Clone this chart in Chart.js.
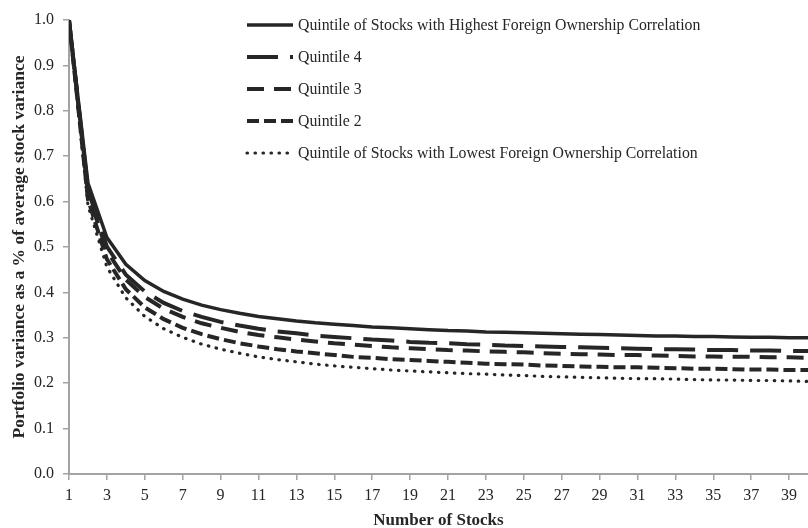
<!DOCTYPE html>
<html>
<head>
<meta charset="utf-8">
<script src="https://cdn.jsdelivr.net/npm/chart.js@4"></script>
<style>
  html, body { margin: 0; padding: 0; background: #fff; }
  #wrap { width: 808px; height: 528px; }
</style>
</head>
<body>
<div id="wrap"><canvas id="chart" width="808" height="528"></canvas></div>
<script>
// Number of stocks in the portfolio (x axis)
const nStocks = [1, 2, 3, 4, 5, 6, 7, 8, 9, 10, 11, 12, 13, 14, 15, 16, 17, 18, 19, 20,
  21, 22, 23, 24, 25, 26, 27, 28, 29, 30, 31, 32, 33, 34, 35, 36, 37, 38, 39, 40];
const xTicks = [1, 3, 5, 7, 9, 11, 13, 15, 17, 19, 21, 23, 25, 27, 29, 31, 33, 35, 37, 39];

// Portfolio variance as share of average stock variance
const highest = [1.000, 0.641, 0.521, 0.462, 0.426, 0.402, 0.385, 0.372, 0.362, 0.354,
  0.347, 0.342, 0.337, 0.333, 0.330, 0.327, 0.324, 0.322, 0.320, 0.318,
  0.316, 0.315, 0.313, 0.312, 0.311, 0.310, 0.309, 0.308, 0.307, 0.306,
  0.305, 0.304, 0.304, 0.303, 0.303, 0.302, 0.301, 0.301, 0.300, 0.300];
const quint4 = [1.000, 0.626, 0.501, 0.439, 0.402, 0.377, 0.359, 0.346, 0.335, 0.327,
  0.320, 0.314, 0.310, 0.305, 0.302, 0.299, 0.296, 0.294, 0.291, 0.289,
  0.288, 0.286, 0.285, 0.283, 0.282, 0.281, 0.280, 0.279, 0.278, 0.277,
  0.276, 0.275, 0.275, 0.274, 0.273, 0.273, 0.272, 0.272, 0.271, 0.271];
const quint3 = [1.000, 0.619, 0.491, 0.428, 0.390, 0.364, 0.346, 0.332, 0.322, 0.313,
  0.306, 0.301, 0.296, 0.292, 0.288, 0.285, 0.282, 0.279, 0.277, 0.275,
  0.273, 0.272, 0.270, 0.269, 0.268, 0.266, 0.265, 0.264, 0.263, 0.262,
  0.262, 0.261, 0.260, 0.259, 0.259, 0.258, 0.258, 0.257, 0.257, 0.256];
const quint2 = [1.000, 0.605, 0.473, 0.407, 0.367, 0.341, 0.322, 0.308, 0.297, 0.288,
  0.281, 0.275, 0.270, 0.266, 0.262, 0.258, 0.256, 0.253, 0.251, 0.249,
  0.247, 0.245, 0.243, 0.242, 0.241, 0.239, 0.238, 0.237, 0.236, 0.235,
  0.235, 0.234, 0.233, 0.232, 0.232, 0.231, 0.230, 0.230, 0.229, 0.229];
const lowest = [1.000, 0.592, 0.456, 0.388, 0.347, 0.320, 0.301, 0.286, 0.275, 0.266,
  0.258, 0.252, 0.247, 0.242, 0.238, 0.235, 0.232, 0.229, 0.227, 0.225,
  0.223, 0.221, 0.220, 0.218, 0.217, 0.215, 0.214, 0.213, 0.212, 0.211,
  0.210, 0.210, 0.209, 0.208, 0.207, 0.207, 0.206, 0.206, 0.205, 0.204];

const seriesNames = [
  'Quintile of Stocks with Highest Foreign Ownership Correlation',
  'Quintile 4',
  'Quintile 3',
  'Quintile 2',
  'Quintile of Stocks with Lowest Foreign Ownership Correlation'
];

const axisGrey = '#a3a3a3';
const ink = '#262626';
const serif = "'Liberation Serif', 'Times New Roman', serif";

function toPoints(values) {
  return values.map((v, i) => ({ x: nStocks[i], y: v }));
}

function makeSet(label, values, width, dash, cap) {
  return {
    label,
    data: toPoints(values),
    borderColor: ink,
    borderWidth: width,
    borderDash: dash,
    borderCapStyle: cap || 'butt',
    pointRadius: 0,
    tension: 0,
    fill: false
  };
}

// Legend drawn inside the plot area, top right
const insideLegend = {
  id: 'insideLegend',
  afterDraw(chart) {
    const ctx = chart.ctx;
    const x0 = 247, x1 = 293, textX = 298;
    ctx.save();
    chart.data.datasets.forEach((ds, i) => {
      const y = 25 + i * 32;
      ctx.beginPath();
      ctx.strokeStyle = ds.borderColor;
      ctx.lineWidth = ds.borderWidth;
      ctx.setLineDash(ds.borderDash || []);
      ctx.lineCap = ds.borderCapStyle;
      ctx.moveTo(x0, y);
      ctx.lineTo(x1, y);
      ctx.stroke();
      ctx.setLineDash([]);
      ctx.fillStyle = ink;
      ctx.font = '15.8px ' + serif;
      ctx.textBaseline = 'middle';
      ctx.textAlign = 'left';
      ctx.fillText(seriesNames[i], textX, y + 1);
    });
    ctx.restore();
  }
};

new Chart(document.getElementById('chart'), {
  type: 'line',
  data: {
    datasets: [
      makeSet(seriesNames[0], highest, 3.5, []),
      makeSet(seriesNames[1], quint4, 4, [31, 12]),
      makeSet(seriesNames[2], quint3, 4, [17, 10]),
      makeSet(seriesNames[3], quint2, 4, [12, 5]),
      makeSet(seriesNames[4], lowest, 3.2, [0.5, 7.5], 'round')
    ]
  },
  options: {
    responsive: false,
    animation: false,
    layout: { padding: { top: 20, right: 0, left: 0, bottom: 0 } },
    plugins: {
      legend: { display: false },
      tooltip: { enabled: false }
    },
    scales: {
      x: {
        type: 'linear',
        min: 1,
        max: 40,
        afterBuildTicks: axis => { axis.ticks = xTicks.map(v => ({ value: v })); },
        afterFit: scale => { scale.height = 54; },
        grid: { drawOnChartArea: false, drawTicks: true, tickLength: 6, color: axisGrey, lineWidth: 1.5 },
        border: { display: true, color: axisGrey, width: 2 },
        ticks: { color: ink, font: { family: serif, size: 16 }, padding: 6, maxRotation: 0, autoSkip: false },
        title: {
          display: true,
          text: 'Number of Stocks',
          color: ink,
          font: { family: serif, size: 17, weight: 'bold' },
          padding: { top: 0, bottom: -3 }
        }
      },
      y: {
        min: 0,
        max: 1,
        afterFit: scale => { scale.width = 69; },
        grid: { drawOnChartArea: false, drawTicks: true, tickLength: 6, color: axisGrey, lineWidth: 1.5 },
        border: { display: true, color: axisGrey, width: 2 },
        ticks: {
          stepSize: 0.1,
          color: ink,
          font: { family: serif, size: 16 },
          padding: 9,
          callback: v => v.toFixed(1)
        },
        title: {
          display: true,
          text: 'Portfolio variance as a % of average stock variance',
          color: ink,
          font: { family: serif, size: 17.5, weight: 'bold' },
          padding: { top: 9, bottom: 0 }
        }
      }
    }
  },
  plugins: [insideLegend]
});
</script>
</body>
</html>
